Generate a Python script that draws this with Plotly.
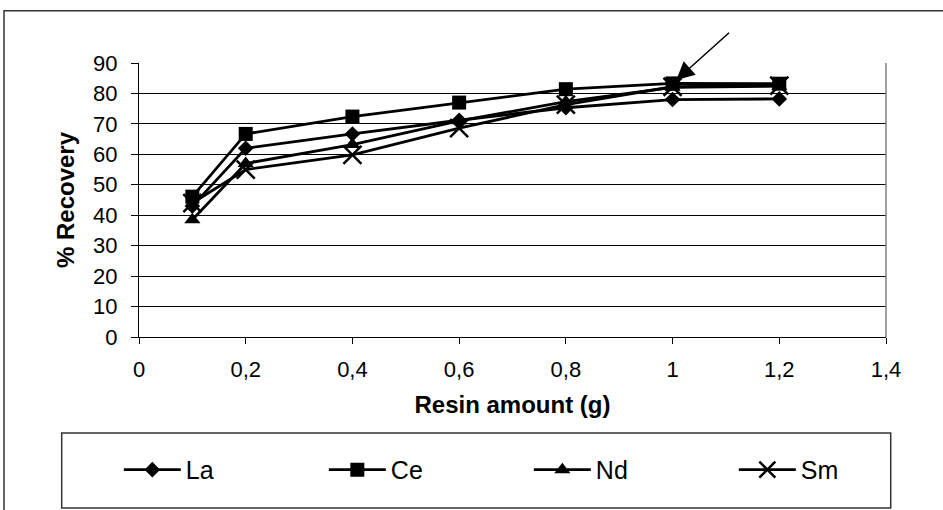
import plotly.graph_objects as go

resin_g = [0.1, 0.2, 0.4, 0.6, 0.8, 1.0, 1.2]
la = [43, 62, 66.7, 71.2, 75.3, 78, 78.2]
ce = [46.1, 66.7, 72.4, 77, 81.4, 83.3, 83.2]
nd = [38.5, 57, 63.2, 71, 77.3, 82, 82.4]
sm = [44, 55, 59.8, 68.6, 76.3, 82.2, 82.6]

x_ticks = [0, 0.2, 0.4, 0.6, 0.8, 1.0, 1.2, 1.4]
x_labels = ["0", "0,2", "0,4", "0,6", "0,8", "1", "1,2", "1,4"]
y_ticks = [0, 10, 20, 30, 40, 50, 60, 70, 80, 90]

FONT = "Liberation Sans, Arial, sans-serif"

series = [
    ("La", la, dict(symbol="diamond", size=12, color="black")),
    ("Ce", ce, dict(symbol="square", size=14, color="black")),
    ("Nd", nd, dict(symbol="triangle-up", size=14, color="black")),
    ("Sm", sm, dict(symbol="x-thin", size=18, color="black",
                    line=dict(width=2.5, color="black"))),
]

fig = go.Figure()
for name, vals, mk in series:
    fig.add_trace(go.Scatter(
        x=resin_g, y=vals, name=name, mode="lines+markers",
        line=dict(color="black", width=2.8), marker=mk,
    ))

fig.update_layout(
    width=943, height=510,
    margin=dict(l=139, r=57, t=63, b=173),
    paper_bgcolor="white", plot_bgcolor="white",
    font=dict(family=FONT, size=22, color="black"),
    showlegend=True,
    legend=dict(
        orientation="h", x=-0.027, xanchor="left", y=-0.485, yanchor="middle",
        font=dict(size=25), bgcolor="rgba(0,0,0,0)", borderwidth=0,
        itemwidth=57, entrywidth=133, entrywidthmode="pixels",
    ),
    xaxis=dict(
        range=[0, 1.4], tickvals=x_ticks, ticktext=x_labels,
        showgrid=False, zeroline=False, showline=True, linecolor="black",
        linewidth=1, ticks="outside", ticklen=6, tickcolor="black",
        tickfont=dict(size=22), ticklabelstandoff=7,
        title=dict(text="<b>Resin amount (g)</b>", font=dict(size=24), standoff=14),
    ),
    yaxis=dict(
        range=[0, 90], tickvals=y_ticks, showgrid=True, gridcolor="black",
        gridwidth=1, zeroline=False, showline=True, linecolor="black",
        linewidth=1, ticks="outside", ticklen=7, tickcolor="black",
        tickfont=dict(size=22), ticklabelstandoff=9,
        title=dict(text="<b>% Recovery</b>", font=dict(size=24), standoff=11),
    ),
    shapes=[
        dict(type="line", xref="x domain", yref="y domain", x0=1, x1=1, y0=0, y1=1,
             line=dict(color="#808080", width=1.5)),
        dict(type="rect", xref="paper", yref="paper", x0=-0.1807, x1=1.2, y0=-0.7,
             y1=1.1908, line=dict(color="#333333", width=1.5), fillcolor="rgba(0,0,0,0)",
             layer="above"),
        dict(type="rect", xref="paper", yref="paper", x0=-0.1035, x1=1.0063,
             y0=-0.6238, y1=-0.3507, line=dict(color="#333333", width=1.5),
             fillcolor="rgba(0,0,0,0)"),
    ],
    annotations=[
        dict(x=resin_g[5], y=ce[5], xref="x", yref="y", text="", showarrow=True,
             ax=58, ay=-52, arrowhead=2, arrowsize=2.4, arrowwidth=1.5,
             arrowcolor="black", standoff=5),
    ],
)

fig.write_html("out.html")
